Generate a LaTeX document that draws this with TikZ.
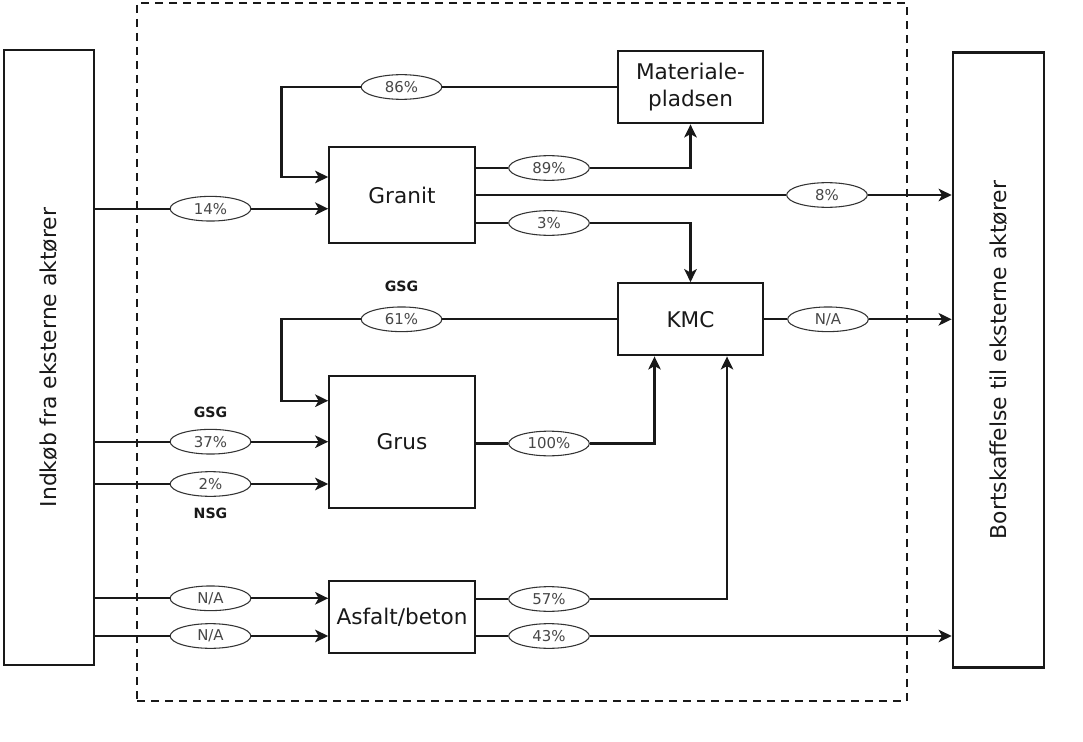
\documentclass[tikz,border=0pt]{standalone}
\usepackage{fontspec}
\setmainfont{DejaVu Sans}
\usetikzlibrary{arrows.meta,shapes.geometric,calc}
\begin{document}
\begin{tikzpicture}[x=0.75pt,y=-0.75pt,
 box/.style={draw=black!90, line width=1.7pt, inner sep=0pt, align=center, font=\fontsize{16.2}{20}\selectfont, text=black!90},
 sidebox/.style={box, font=\fontsize{16.4}{20}\selectfont},
 lab/.style={ellipse, draw=black!80, line width=0.8pt, fill=white, minimum width=60.5pt, minimum height=18.5pt, inner sep=0pt, font=\fontsize{11.2}{13}\selectfont, text=black!72},
 flow/.style={line width=1.7pt, draw=black!90},
 arr/.style={flow, -{Stealth[length=9.8pt,width=9.4pt,inset=2.6pt]}},
 tag/.style={font=\bfseries\fontsize{10.6}{12}\selectfont, text=black!90},
 frame/.style={draw=black!90, line width=1.6pt, dash pattern=on 6pt off 4.5pt, inner sep=0pt},
 line join=miter
]
\useasboundingbox (0,0) rectangle (1083,742);

% system boundary
\node[frame, minimum width=577.5pt, minimum height=523.5pt] (sys) at (522,352) {};

% boxes
\node[sidebox, minimum width=67.5pt, minimum height=461.25pt] (inL) at (49,357.5) {\rotatebox{90}{Indkøb fra eksterne aktører}};
\node[sidebox, minimum width=68.25pt, minimum height=461.25pt] (outR) at (998.3,360) {\rotatebox{90}{Bortskaffelse til eksterne aktører}};
\node[box, minimum width=109pt, minimum height=54.4pt] (mat) at (690.5,87) {Materiale-\\pladsen};
\node[box, minimum width=109pt, minimum height=72pt] (granit) at (402,195) {Granit};
\node[box, minimum width=109pt, minimum height=54pt] (kmc) at (690.5,319.3) {KMC};
\node[box, minimum width=109pt, minimum height=99.5pt] (grus) at (402,442) {Grus};
\node[box, minimum width=109pt, minimum height=54.5pt] (asf) at (402,617) {Asfalt/beton};

% labels
\node[lab] (l86) at (401.5,87) {86\%};
\node[lab] (l14) at (210.5,208.7) {14\%};
\node[lab] (l89) at (549,168) {89\%};
\node[lab] (l8) at (827,195) {8\%};
\node[lab] (l3) at (549,223) {3\%};
\node[lab] (l61) at (401.5,319.3) {61\%};
\node[lab] (lna1) at (828,319.3) {N/A};
\node[lab] (l37) at (210.5,441.7) {37\%};
\node[lab] (l2) at (210.5,484) {2\%};
\node[lab] (l100) at (549,443.5) {100\%};
\node[lab] (lna2) at (210.5,598.3) {N/A};
\node[lab] (lna3) at (210.5,636) {N/A};
\node[lab] (l57) at (549,599) {57\%};
\node[lab] (l43) at (549,636) {43\%};

\node[tag] (t1) at (401.5,286) {GSG};
\node[tag] (t2) at (210.5,412.5) {GSG};
\node[tag] (t3) at (210.5,513) {NSG};

% helper corners
\coordinate (k86) at (281.5,177);
\coordinate (k61) at (281.5,400.7);
\coordinate (x100) at (654.5,443.5);
\coordinate (x57) at (727,599);

% connectors
\draw[flow] (mat.west |- l86) -- (l86.east);
\draw[arr] (l86.west) -| (k86) -- (granit.west |- k86);

\draw[flow] (inL.east |- l14) -- (l14.west);
\draw[arr] (l14.east) -- (granit.west |- l14);

\draw[flow] (granit.east |- l89) -- (l89.west);
\draw[arr] (l89.east) -| (mat.south);

\draw[flow] (granit.east |- l8) -- (l8.west);
\draw[arr] (l8.east) -- (outR.west |- l8);

\draw[flow] (granit.east |- l3) -- (l3.west);
\draw[arr] (l3.east) -| (kmc.north);

\draw[flow] (kmc.west |- l61) -- (l61.east);
\draw[arr] (l61.west) -| (k61) -- (grus.west |- k61);

\draw[flow] (kmc.east |- lna1) -- (lna1.west);
\draw[arr] (lna1.east) -- (outR.west |- lna1);

\draw[flow] (inL.east |- l37) -- (l37.west);
\draw[arr] (l37.east) -- (grus.west |- l37);

\draw[flow] (inL.east |- l2) -- (l2.west);
\draw[arr] (l2.east) -- (grus.west |- l2);

\draw[flow] (grus.east |- l100) -- (l100.west);
\draw[arr] (l100.east) -- (x100) -- (x100 |- kmc.south);

\draw[flow] (inL.east |- lna2) -- (lna2.west);
\draw[arr] (lna2.east) -- (asf.west |- lna2);

\draw[flow] (inL.east |- lna3) -- (lna3.west);
\draw[arr] (lna3.east) -- (asf.west |- lna3);

\draw[flow] (asf.east |- l57) -- (l57.west);
\draw[arr] (l57.east) -- (x57) -- (x57 |- kmc.south);

\draw[flow] (asf.east |- l43) -- (l43.west);
\draw[arr] (l43.east) -- (outR.west |- l43);
\end{tikzpicture}
\end{document}
